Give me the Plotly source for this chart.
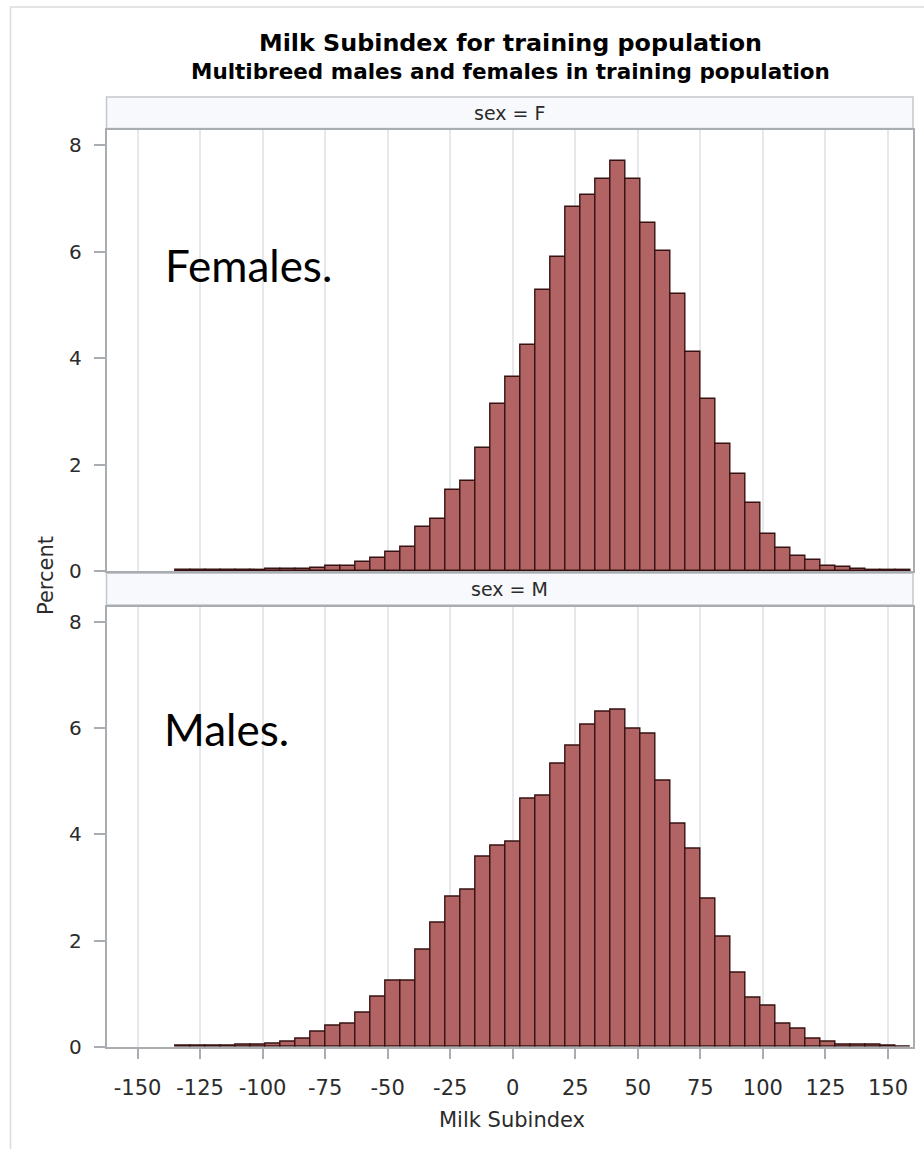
import plotly.graph_objects as go

# ---------------- data ----------------
bin_centers = [-132, -126, -120, -114, -108, -102, -96, -90, -84, -78, -72, -66,
               -60, -54, -48, -42, -36, -30, -24, -18, -12, -6, 0, 6, 12, 18,
               24, 30, 36, 42, 48, 54, 60, 66, 72, 78, 84, 90, 96, 102, 108,
               114, 120, 126, 132, 138, 144, 150, 156]

female_pct = [0.01, 0.015, 0.015, 0.02, 0.02, 0.025, 0.03, 0.035, 0.04, 0.06, 0.09, 0.09,
              0.16, 0.24, 0.36, 0.46, 0.83, 0.98, 1.52, 1.69, 2.32, 3.13, 3.64, 4.24, 5.28, 5.90,
              6.84, 7.07, 7.36, 7.71, 7.37, 6.54, 6.02, 5.20, 4.11, 3.23, 2.39, 1.83, 1.28, 0.70, 0.43,
              0.29, 0.21, 0.09, 0.075, 0.04, 0.025, 0.02, 0.02]

male_pct = [0.015, 0.02, 0.015, 0.02, 0.04, 0.04, 0.06, 0.09, 0.16, 0.28, 0.40, 0.44,
            0.64, 0.95, 1.24, 1.24, 1.83, 2.34, 2.82, 2.95, 3.58, 3.78, 3.87, 4.67, 4.73, 5.34,
            5.67, 6.06, 6.32, 6.35, 5.99, 5.89, 5.02, 4.21, 3.73, 2.79, 2.08, 1.39, 0.92, 0.77, 0.44,
            0.33, 0.15, 0.09, 0.045, 0.04, 0.03, 0.025, 0.0]

x_tick_vals = [-150, -125, -100, -75, -50, -25, 0, 25, 50, 75, 100, 125, 150]
x_tick_text = ["-150", "-125", "-100", "-75", "-50", "-25", "0", "25", "50", "75", "100", "125", "150"]
y_tick_vals = [0, 2, 4, 6, 8]
y_tick_text = ["0", "2", "4", "6", "8"]

title_text = "Milk Subindex for training population"
subtitle_text = "Multibreed males and females in training population"
panel_labels = ["sex = F", "sex = M"]
panel_notes = ["Females.", "Males."]
x_title = "Milk Subindex"
y_title = "Percent"

# ---------------- layout helpers ----------------
W, H = 924, 1149
def px(x):
    return x / W
def py(y):
    return 1 - y / H

BAR_FILL = "rgb(178,100,100)"
BAR_LINE = "rgb(55,18,18)"
FRAME = "#a9adb2"
GRID = "#e6e8eb"
TXT = "#2b2b2b"
FONT = "DejaVu Sans"
BIN_W = 6

fig = go.Figure()
fig.add_trace(go.Bar(x=bin_centers, y=female_pct, width=BIN_W, xaxis="x", yaxis="y",
                     marker=dict(color=BAR_FILL, line=dict(color=BAR_LINE, width=1.4)),
                     showlegend=False, hoverinfo="x+y"))
fig.add_trace(go.Bar(x=bin_centers, y=male_pct, width=BIN_W, xaxis="x2", yaxis="y2",
                     marker=dict(color=BAR_FILL, line=dict(color=BAR_LINE, width=1.4)),
                     showlegend=False, hoverinfo="x+y"))

x_dom = [px(106.5), px(913)]
x_range = [-162.4, 160.0]
y_range = [0, 8.29]

common_x = dict(domain=x_dom, range=x_range, showgrid=True, gridcolor=GRID, gridwidth=1.5,
                tickvals=x_tick_vals, zeroline=False, showline=True, linecolor=FRAME,
                linewidth=1.5, mirror=True, fixedrange=True, automargin=False)
common_y = dict(range=y_range, tickvals=y_tick_vals, ticktext=y_tick_text, showgrid=False,
                zeroline=False, showline=True, linecolor=FRAME, linewidth=1.5, mirror=True,
                ticks="outside", ticklen=11, tickcolor=FRAME, tickwidth=1.5,
                tickfont=dict(family=FONT, size=20, color=TXT), ticklabelstandoff=8,
                fixedrange=True, automargin=False)

fig.update_layout(
    width=W, height=H, autosize=False,
    margin=dict(l=0, r=0, t=0, b=0, pad=0),
    paper_bgcolor="white", plot_bgcolor="white",
    bargap=0,
    xaxis=dict(**common_x, anchor="y", showticklabels=False, ticks=""),
    yaxis=dict(**common_y, domain=[py(571), py(130)], anchor="x"),
    xaxis2=dict(**common_x, anchor="y2", ticktext=x_tick_text, ticks="outside", ticklen=11,
                tickcolor=FRAME, tickwidth=1.5, ticklabelstandoff=10,
                tickfont=dict(family=FONT, size=21, color=TXT), matches="x"),
    yaxis2=dict(**common_y, domain=[py(1046.7), py(606.7)], anchor="x2"),
)

shapes = []
# outer frame
shapes.append(dict(type="rect", xref="paper", yref="paper", x0=px(10.5), x1=px(940),
                   y0=py(1175), y1=py(7), line=dict(color="#d9dbde", width=1.5),
                   fillcolor="rgba(0,0,0,0)", layer="below"))
# panel headers
for top, bot in [(97, 128.5), (573.3, 605)]:
    shapes.append(dict(type="rect", xref="paper", yref="paper", x0=x_dom[0], x1=x_dom[1],
                       y0=py(bot), y1=py(top), line=dict(color="#c4c8cc", width=1.5),
                       fillcolor="#f7f9fc", layer="below"))
fig.update_layout(shapes=shapes)

ann = []
ann.append(dict(text="<b>" + title_text + "</b>", x=px(511), y=py(43), xref="paper", yref="paper",
                showarrow=False, xanchor="center", yanchor="middle",
                font=dict(family=FONT, size=23.8, color="black")))
ann.append(dict(text="<b>" + subtitle_text + "</b>", x=px(511), y=py(71), xref="paper", yref="paper",
                showarrow=False, xanchor="center", yanchor="middle",
                font=dict(family=FONT, size=21.5, color="black")))
for lab, yc in zip(panel_labels, [113, 589]):
    ann.append(dict(text=lab, x=(x_dom[0] + x_dom[1]) / 2, y=py(yc), xref="paper", yref="paper",
                    showarrow=False, xanchor="center", yanchor="middle",
                    font=dict(family=FONT, size=19, color=TXT)))
for lab, xl, yc in zip(panel_notes, [163, 161.5], [265, 729]):
    ann.append(dict(text=lab, x=px(xl), y=py(yc), xref="paper", yref="paper",
                    showarrow=False, xanchor="left", yanchor="middle",
                    font=dict(family="Lato", size=44, color="black")))
ann.append(dict(text=x_title, x=px(512), y=py(1119.5), xref="paper", yref="paper",
                showarrow=False, xanchor="center", yanchor="middle",
                font=dict(family=FONT, size=21, color=TXT)))
ann.append(dict(text=y_title, x=px(46), y=py(576), xref="paper", yref="paper",
                showarrow=False, xanchor="center", yanchor="middle", textangle=-90,
                font=dict(family=FONT, size=21, color=TXT)))
fig.update_layout(annotations=ann)

fig.write_html("out.html")
